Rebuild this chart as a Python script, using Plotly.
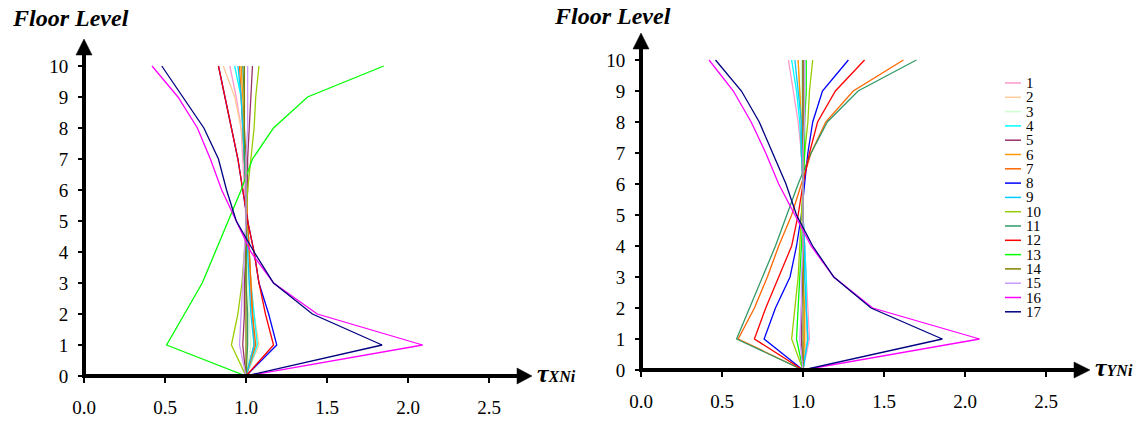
import plotly.graph_objects as go

# ---------------- data ----------------
floors = [0, 1, 2, 3, 4, 5, 6, 7, 8, 9, 10]
series_names = ["1", "2", "3", "4", "5", "6", "7", "8", "9", "10",
                "11", "12", "13", "14", "15", "16", "17"]
series_colors = ["#FF99CC", "#FFCC99", "#CCFFCC", "#00FFFF", "#993366", "#FF9900",
                 "#FF6600", "#0000FF", "#00CCFF", "#99CC00", "#339966", "#FF0000",
                 "#00FF00", "#808000", "#CC99FF", "#FF00FF", "#000080"]
x_ticks = [0.0, 0.5, 1.0, 1.5, 2.0, 2.5]
x_tick_text = ["0.0", "0.5", "1.0", "1.5", "2.0", "2.5"]
y_ticks = [0, 1, 2, 3, 4, 5, 6, 7, 8, 9, 10]

# tau_XNi (left chart), floors 0..10
tx01 = [1.00, 1.05, 1.04, 1.02, 1.01, 1.00, 0.99, 0.98, 0.97, 0.94, 0.90]
tx02 = [1.00, 1.08, 1.05, 1.03, 1.02, 1.01, 1.00, 0.99, 0.97, 0.93, 0.86]
tx03 = [1.00, 1.03, 1.02, 1.01, 1.01, 1.00, 1.00, 0.99, 0.99, 0.98, 0.97]
tx04 = [1.00, 1.07, 1.05, 1.03, 1.02, 1.01, 1.00, 0.99, 0.98, 0.97, 0.93]
tx05 = [1.00, 0.98, 0.99, 0.99, 1.00, 1.00, 1.01, 1.01, 1.02, 1.03, 1.04]
tx06 = [1.00, 1.05, 1.04, 1.03, 1.02, 1.01, 1.00, 0.99, 0.99, 0.98, 0.97]
tx07 = [1.00, 1.06, 1.04, 1.03, 1.02, 1.01, 1.00, 0.99, 0.98, 0.97, 0.96]
tx08 = [1.00, 1.19, 1.14, 1.08, 1.05, 1.01, 0.98, 0.95, 0.91, 0.87, 0.83]
tx09 = [1.00, 1.05, 1.03, 1.02, 1.01, 1.00, 1.00, 0.99, 0.98, 0.97, 0.95]
tx10 = [1.00, 0.91, 0.95, 0.975, 0.99, 1.00, 1.01, 1.03, 1.05, 1.06, 1.08]
tx11 = [1.00, 1.01, 1.01, 1.00, 1.00, 1.00, 1.00, 0.99, 0.99, 0.99, 0.98]
tx12 = [1.00, 1.17, 1.12, 1.08, 1.05, 1.01, 0.98, 0.95, 0.91, 0.87, 0.83]
tx13 = [1.00, 0.51, 0.62, 0.73, 0.81, 0.89, 0.97, 1.04, 1.17, 1.38, 1.85]
tx14 = [1.00, 1.00, 1.00, 1.00, 1.00, 1.00, 1.00, 1.00, 0.99, 0.99, 0.99]
tx15 = [1.00, 0.96, 0.97, 0.98, 0.99, 1.00, 1.00, 1.00, 1.01, 1.01, 1.01]
tx16 = [1.00, 2.09, 1.44, 1.17, 1.03, 0.94, 0.85, 0.78, 0.70, 0.58, 0.42]
tx17 = [1.00, 1.84, 1.41, 1.17, 1.05, 0.94, 0.88, 0.83, 0.74, 0.61, 0.48]

# tau_YNi (right chart), floors 0..10
ty01 = [1.00, 1.04, 1.03, 1.02, 1.01, 1.00, 1.00, 0.99, 0.97, 0.94, 0.91]
ty02 = [1.00, 1.02, 1.02, 1.01, 1.01, 1.00, 1.00, 0.99, 0.99, 0.98, 0.97]
ty03 = [1.00, 1.01, 1.01, 1.00, 1.00, 1.00, 1.00, 1.00, 0.99, 0.99, 0.99]
ty04 = [1.00, 1.03, 1.02, 1.02, 1.01, 1.00, 1.00, 0.99, 0.98, 0.96, 0.93]
ty05 = [1.00, 0.99, 0.99, 1.00, 1.00, 1.00, 1.00, 1.00, 1.00, 1.00, 1.00]
ty06 = [1.00, 1.01, 1.01, 1.00, 1.00, 1.00, 1.00, 0.99, 0.99, 0.98, 0.97]
ty07 = [1.00, 0.60, 0.70, 0.78, 0.85, 0.93, 0.99, 1.05, 1.14, 1.31, 1.62]
ty08 = [1.00, 0.76, 0.83, 0.92, 0.96, 0.99, 1.01, 1.03, 1.06, 1.12, 1.28]
ty09 = [1.00, 1.03, 1.02, 1.01, 1.01, 1.00, 1.00, 0.99, 0.99, 0.97, 0.95]
ty10 = [1.00, 0.93, 0.95, 0.97, 0.98, 0.99, 1.00, 1.01, 1.03, 1.04, 1.06]
ty11 = [1.00, 0.59, 0.67, 0.75, 0.83, 0.90, 0.97, 1.05, 1.15, 1.34, 1.70]
ty12 = [1.00, 0.70, 0.77, 0.85, 0.93, 0.97, 1.00, 1.04, 1.09, 1.20, 1.38]
ty13 = [1.00, 0.96, 0.97, 0.98, 0.99, 1.00, 1.00, 1.01, 1.01, 1.02, 1.02]
ty14 = [1.00, 1.00, 1.00, 1.00, 1.00, 1.00, 1.00, 1.00, 1.00, 1.00, 1.00]
ty15 = [1.00, 0.98, 0.99, 0.99, 1.00, 1.00, 1.00, 1.00, 1.01, 1.01, 1.01]
ty16 = [1.00, 2.09, 1.43, 1.19, 1.05, 0.95, 0.85, 0.77, 0.68, 0.57, 0.42]
ty17 = [1.00, 1.86, 1.42, 1.19, 1.06, 0.96, 0.895, 0.81, 0.73, 0.62, 0.46]

tx_series = [tx01, tx02, tx03, tx04, tx05, tx06, tx07, tx08, tx09, tx10,
             tx11, tx12, tx13, tx14, tx15, tx16, tx17]
ty_series = [ty01, ty02, ty03, ty04, ty05, ty06, ty07, ty08, ty09, ty10,
             ty11, ty12, ty13, ty14, ty15, ty16, ty17]

# ---------------- layout helpers ----------------
W, H = 1142, 421
SERIF = "Liberation Serif"


def fx(p):
    return p / W


def fy(p):
    return 1 - p / H


# pixel geometry of the two panels
L = dict(x0=84, xend=518, tip=532, y0=376, ytop=54, ytip=39)
R = dict(x0=641, xend=1075, tip=1090, y0=370, ytop=48, ytip=33)
PX_PER_UNIT = 162.0
PX_PER_FLOOR = 31.0

fig = go.Figure()

for name, col, xs in zip(series_names, series_colors, tx_series):
    fig.add_trace(go.Scatter(x=xs, y=floors, mode="lines", name=name,
                             line=dict(color=col, width=1.3),
                             showlegend=False, xaxis="x", yaxis="y"))
for name, col, xs in zip(series_names, series_colors, ty_series):
    fig.add_trace(go.Scatter(x=xs, y=floors, mode="lines", name=name,
                             line=dict(color=col, width=1.3),
                             showlegend=False, xaxis="x2", yaxis="y2"))


def xaxis_cfg(P):
    return dict(domain=[fx(P["x0"]), fx(P["xend"])],
                range=[0, (P["xend"] - P["x0"]) / PX_PER_UNIT],
                tickvals=x_ticks, ticktext=x_tick_text,
                ticks="outside", ticklen=6, tickwidth=2, tickcolor="black",
                ticklabelstandoff=8, automargin=False,
                showline=False, showgrid=False, zeroline=False,
                tickfont=dict(family=SERIF, size=19, color="black"),
                fixedrange=True)


def yaxis_cfg(P):
    return dict(domain=[fy(P["y0"]), fy(P["ytop"])],
                range=[0, (P["y0"] - P["ytop"]) / PX_PER_FLOOR],
                tickvals=y_ticks,
                ticks="outside", ticklen=5, tickwidth=2, tickcolor="black",
                ticklabelstandoff=6, automargin=False,
                showline=False, showgrid=False, zeroline=False,
                tickfont=dict(family=SERIF, size=19, color="black"),
                fixedrange=True)


xa2 = xaxis_cfg(R)
xa2["anchor"] = "y2"
ya2 = yaxis_cfg(R)
ya2["anchor"] = "x2"

shapes = []
for P in (L, R):
    # axis lines
    shapes.append(dict(type="line", xref="paper", yref="paper",
                       x0=fx(P["x0"] - 2), y0=fy(P["y0"]), x1=fx(P["xend"]), y1=fy(P["y0"]),
                       line=dict(color="black", width=4)))
    shapes.append(dict(type="line", xref="paper", yref="paper",
                       x0=fx(P["x0"]), y0=fy(P["y0"] + 2), x1=fx(P["x0"]), y1=fy(P["ytop"]),
                       line=dict(color="black", width=4)))
    # arrow heads
    ax = "M {a},{b} L {c},{d} L {e},{f} Z".format(
        a=fx(P["xend"] - 1), b=fy(P["y0"] - 8), c=fx(P["tip"]), d=fy(P["y0"]),
        e=fx(P["xend"] - 1), f=fy(P["y0"] + 8))
    shapes.append(dict(type="path", xref="paper", yref="paper", path=ax,
                       fillcolor="black", line=dict(color="black", width=0.5)))
    ay = "M {a},{b} L {c},{d} L {e},{f} Z".format(
        a=fx(P["x0"] - 8), b=fy(P["ytop"] + 1), c=fx(P["x0"]), d=fy(P["ytip"]),
        e=fx(P["x0"] + 8), f=fy(P["ytop"] + 1))
    shapes.append(dict(type="path", xref="paper", yref="paper", path=ay,
                       fillcolor="black", line=dict(color="black", width=0.5)))

annotations = [
    dict(text="<b><i>Floor Level</i></b>", x=fx(10), y=fy(18), xref="paper", yref="paper",
         xanchor="left", yanchor="middle", showarrow=False,
         font=dict(family=SERIF, size=24, color="black")),
    dict(text="<b><i>Floor Level</i></b>", x=fx(552), y=fy(16), xref="paper", yref="paper",
         xanchor="left", yanchor="middle", showarrow=False,
         font=dict(family=SERIF, size=24, color="black")),
    dict(text="<b><i>τ<span style='font-size:16px'>XNi</span></i></b>",
         x=fx(535), y=fy(373), xref="paper", yref="paper",
         xanchor="left", yanchor="middle", showarrow=False,
         font=dict(family=SERIF, size=26, color="black")),
    dict(text="<b><i>τ<span style='font-size:16px'>YNi</span></i></b>",
         x=fx(1093), y=fy(367), xref="paper", yref="paper",
         xanchor="left", yanchor="middle", showarrow=False,
         font=dict(family=SERIF, size=26, color="black")),
]

# legend for the right panel (one entry per series, stacked)
LEG_X0, LEG_X1, LEG_TXT, LEG_Y0, LEG_DY = 1005, 1021, 1024, 83, 14.3
for i, (name, col) in enumerate(zip(series_names, series_colors)):
    yc = LEG_Y0 + i * LEG_DY
    shapes.append(dict(type="line", xref="paper", yref="paper",
                       x0=fx(LEG_X0), y0=fy(yc), x1=fx(LEG_X1), y1=fy(yc),
                       line=dict(color=col, width=1.5)))
    annotations.append(dict(text=name, x=fx(LEG_TXT), y=fy(yc), xref="paper", yref="paper",
                            xanchor="left", yanchor="middle", showarrow=False,
                            font=dict(family=SERIF, size=15, color="black")))

fig.update_layout(
    width=W, height=H, autosize=False,
    margin=dict(l=0, r=0, t=0, b=0, pad=0, autoexpand=False),
    paper_bgcolor="white", plot_bgcolor="white",
    showlegend=False,
    font=dict(family=SERIF, color="black"),
    xaxis=dict(xaxis_cfg(L), anchor="y"),
    yaxis=dict(yaxis_cfg(L), anchor="x"),
    xaxis2=xa2, yaxis2=ya2,
    shapes=shapes, annotations=annotations,
)

fig.write_html("out.html")
